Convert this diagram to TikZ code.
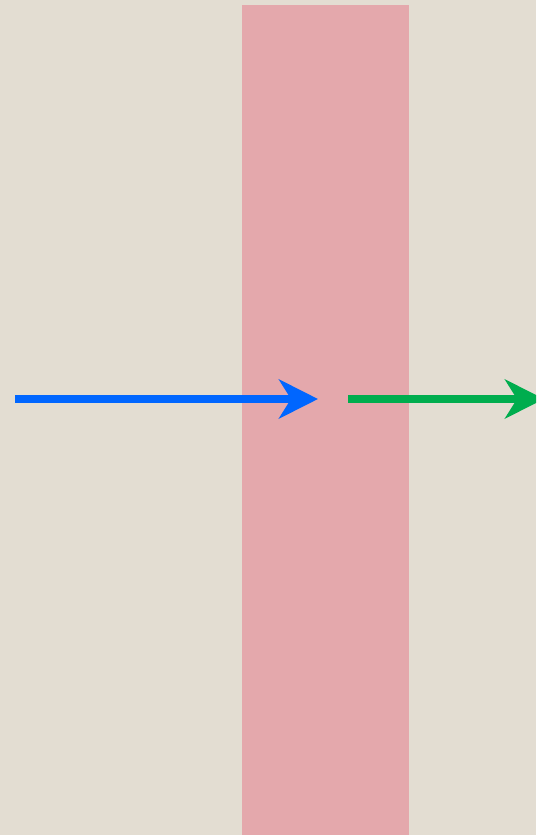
\documentclass[tikz,border=0pt]{standalone}
\usetikzlibrary{arrows.meta}
\definecolor{bgbeige}{HTML}{E3DDD2}
\definecolor{slabpink}{HTML}{E4A8AC}
\definecolor{inblue}{HTML}{0066FF}
\definecolor{outgreen}{HTML}{00AD4E}
\tikzset{
    ray/.style={line width=8pt, -{Stealth[length=39pt, width=39pt, inset=12pt]}},
}
\begin{document}
\begin{tikzpicture}[x=1pt, y=-1pt]
    \fill[bgbeige] (0,0) rectangle (536,835);
    \useasboundingbox (0,0) rectangle (536,835);
    \clip (0,0) rectangle (536,835);
    \fill[slabpink] (242,5) rectangle (409,835);

    \coordinate (inL) at (15,399);
    \coordinate (inR) at (318,399);
    \coordinate (outL) at (348,399);
    \coordinate (outR) at (544,399);
    \draw[ray, inblue] (inL) -- (inR);
    \draw[ray, outgreen] (outL) -- (outR);
\end{tikzpicture}
\end{document}
